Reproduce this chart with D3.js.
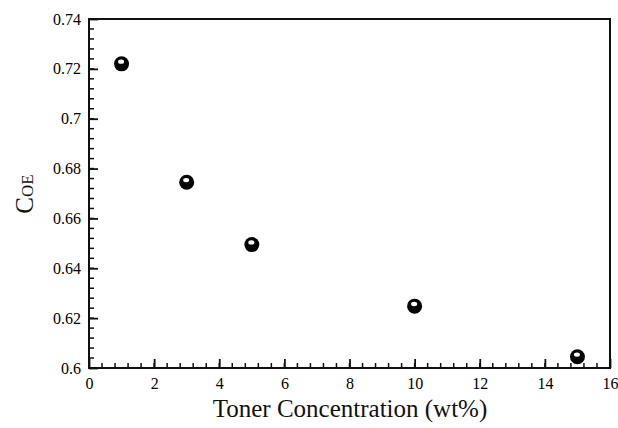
<!DOCTYPE html>
<html><head><meta charset="utf-8">
<script src="https://cdn.jsdelivr.net/npm/d3@7"></script>
<style>body{margin:0;background:#fff}</style>
</head><body>
<svg id="c" width="618" height="428"></svg>
<script>
const concentration = [1, 3, 5, 10, 15];
const coe = [0.722, 0.6745, 0.6495, 0.6248, 0.6045];
const xTicks = [0, 2, 4, 6, 8, 10, 12, 14, 16];
const yTicks = [0.6, 0.62, 0.64, 0.66, 0.68, 0.7, 0.72, 0.74];

const svg = d3.select("#c");
const L = 89, R = 610, T = 19, B = 368;
const x = d3.scaleLinear().domain([0, 16]).range([L, R]);
const y = d3.scaleLinear().domain([0.6, 0.74]).range([B, T]);
const font = "'Liberation Serif', 'Times New Roman', serif";

// frame
svg.append("rect").attr("x", L).attr("y", T).attr("width", R - L).attr("height", B - T)
  .attr("fill", "none").attr("stroke", "#111").attr("stroke-width", 2);

// minor ticks
const xMinor = d3.range(0, 16.001, 0.4);
const yMinor = d3.range(0.6, 0.7401, 0.004);
svg.append("g").selectAll("line").data(xMinor).join("line")
  .attr("x1", d => x(d)).attr("x2", d => x(d)).attr("y1", B).attr("y2", B - 5)
  .attr("stroke", "#111").attr("stroke-width", 1.5);
svg.append("g").selectAll("line").data(yMinor).join("line")
  .attr("y1", d => y(d)).attr("y2", d => y(d)).attr("x1", L).attr("x2", L + 5)
  .attr("stroke", "#111").attr("stroke-width", 1.5);

// axes with inward major ticks
const xAxis = d3.axisBottom(x).tickValues(xTicks).tickFormat(d3.format("d")).tickSizeInner(-9).tickSizeOuter(0).tickPadding(10);
const gx = svg.append("g").attr("transform", `translate(0,${B})`).call(xAxis);
const yAxis = d3.axisLeft(y).tickValues(yTicks).tickFormat(d => String(+d.toFixed(2))).tickSizeInner(-9).tickSizeOuter(0).tickPadding(8);
const gy = svg.append("g").attr("transform", `translate(${L},0)`).call(yAxis);
[gx, gy].forEach(g => {
  g.attr("font-family", font).attr("font-size", 16);
  g.select(".domain").remove();
  g.selectAll(".tick line").attr("stroke", "#111").attr("stroke-width", 1.8);
  g.selectAll("text").attr("font-family", font).attr("font-size", 16).attr("fill", "#000");
});

// points: shaded spheres
const pts = concentration.map((c, i) => ({c, v: coe[i]}));
const gp = svg.append("g");
gp.selectAll("circle.b").data(pts).join("circle").attr("class", "b")
  .attr("cx", d => x(d.c)).attr("cy", d => y(d.v)).attr("r", 7.5).attr("fill", "#050505");
gp.selectAll("ellipse.h").data(pts).join("ellipse").attr("class", "h")
  .attr("cx", d => x(d.c) - 0.5).attr("cy", d => y(d.v) - 2.2).attr("rx", 3).attr("ry", 2.2).attr("fill", "#fff");

// axis titles
svg.append("text").attr("x", 350).attr("y", 417).attr("text-anchor", "middle")
  .attr("font-family", font).attr("font-size", 25).attr("fill", "#111")
  .text("Toner Concentration (wt%)");
const yl = svg.append("text").attr("transform", "translate(33,194) rotate(-90)").attr("text-anchor", "middle")
  .attr("font-family", font).attr("fill", "#111");
yl.append("tspan").attr("font-size", 25).text("C");
yl.append("tspan").attr("font-size", 17).text("OE");
</script>
</body></html>
